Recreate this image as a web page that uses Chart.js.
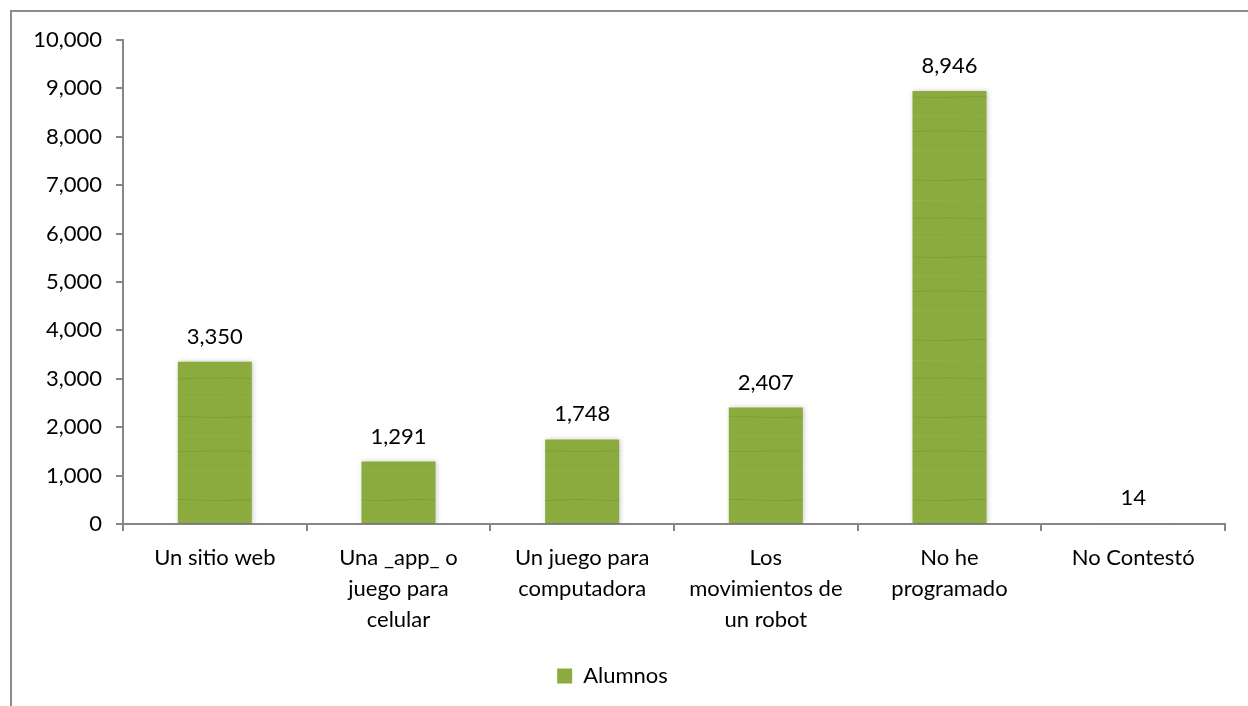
<!DOCTYPE html>
<html><head><meta charset="utf-8">
<script src="https://cdn.jsdelivr.net/npm/chart.js@4"></script>
<style>
html,body{margin:0;padding:0;background:#fff;}
#wrap{position:absolute;left:0;top:0;width:1248px;height:706px;}
</style></head>
<body><div id="wrap"><canvas id="c" width="1248" height="706"></canvas></div>
<script>
const categories = [
  "Un sitio web",
  ["Una _app_ o", "juego para", "celular"],
  ["Un juego para", "computadora"],
  ["Los", "movimientos de", "un robot"],
  ["No he", "programado"],
  "No Contestó"
];
const seriesName = "Alumnos";
const values = [3350, 1291, 1748, 2407, 8946, 14];
const yTicks = [0, 1000, 2000, 3000, 4000, 5000, 6000, 7000, 8000, 9000, 10000];

const FONT = "Lato, 'Open Sans', sans-serif";
const FS = 22;

function makePattern() {
  const p = document.createElement('canvas');
  p.width = 80; p.height = 160;
  const g = p.getContext('2d');
  g.fillStyle = '#8cab3f';
  g.fillRect(0, 0, 80, 160);
  g.strokeStyle = 'rgba(80,110,30,0.22)';
  g.lineWidth = 1;
  const rows = [20, 58, 97, 131];
  rows.forEach((y, i) => {
    g.beginPath();
    g.moveTo(0, y);
    g.bezierCurveTo(20, y + (i % 2 ? 2 : -2), 50, y + (i % 2 ? -1 : 2), 80, y);
    g.stroke();
  });
  g.strokeStyle = 'rgba(170,200,100,0.18)';
  [40, 77, 115, 150].forEach((y) => {
    g.beginPath();
    g.moveTo(0, y); g.lineTo(80, y + 1); g.stroke();
  });
  return g.createPattern(p, 'repeat');
}

const ctx0 = document.getElementById('c').getContext('2d');
const pattern = makePattern();

const frame = {
  id: 'frame',
  beforeDraw(chart) {
    const c = chart.ctx;
    c.save();
    c.fillStyle = '#fff';
    c.fillRect(0, 0, chart.width, chart.height);
    c.strokeStyle = '#8c8c8c';
    c.lineWidth = 2;
    c.beginPath();
    c.moveTo(11, 706); c.lineTo(11, 11); c.lineTo(1248, 11);
    c.stroke();
    c.restore();
  }
};

const valueLabels = {
  id: 'valueLabels',
  afterDatasetsDraw(chart) {
    const c = chart.ctx;
    const meta = chart.getDatasetMeta(0);
    c.save();
    c.font = FS + "px " + FONT;
    c.fillStyle = '#000';
    c.textAlign = 'center';
    c.textBaseline = 'bottom';
    meta.data.forEach((bar, i) => {
      c.fillText(values[i].toLocaleString('en-US'), bar.x, bar.y - 14);
    });
    c.restore();
  }
};

const shadow = {
  id: 'shadow',
  beforeDatasetsDraw(chart) {
    const c = chart.ctx;
    c.save();
    c.shadowColor = 'rgba(0,0,0,0.22)';
    c.shadowBlur = 5;
    c.shadowOffsetX = 1;
    c.shadowOffsetY = 0;
  },
  afterDatasetsDraw(chart) { chart.ctx.restore(); }
};

new Chart(ctx0, {
  type: 'bar',
  data: {
    labels: categories,
    datasets: [{
      label: seriesName,
      data: values,
      backgroundColor: pattern,
      borderWidth: 0,
      barPercentage: 0.403,
      categoryPercentage: 1.0
    }]
  },
  options: {
    responsive: false,
    animation: false,
    events: [],
    layout: { padding: { left: 0, right: 23, top: 40, bottom: 9 } },
    plugins: {
      legend: {
        position: 'bottom',
        labels: {
          font: { family: FONT, size: FS },
          color: '#000',
          boxWidth: 15,
          boxHeight: 15,
          padding: 6,
          generateLabels(chart) {
            return [{ text: seriesName, fillStyle: pattern, strokeStyle: 'transparent', lineWidth: 0, hidden: false, datasetIndex: 0 }];
          }
        }
      },
      tooltip: { enabled: false }
    },
    scales: {
      x: {
        offset: true,
        grid: { display: true, drawOnChartArea: false, drawTicks: true, tickLength: 7, color: '#868686', lineWidth: 2, offset: true },
        border: { display: true, color: '#868686', width: 2 },
        ticks: { font: { family: FONT, size: FS, lineHeight: 1.4 }, color: '#000', maxRotation: 0, autoSkip: false, padding: 12 },
        afterFit(scale) { scale.height = 135; }
      },
      y: {
        min: 0, max: 10000,
        afterBuildTicks(scale) { scale.ticks = yTicks.map(v => ({ value: v })); },
        grid: { display: true, drawOnChartArea: false, drawTicks: true, tickLength: 7, color: '#868686', lineWidth: 2 },
        border: { display: true, color: '#868686', width: 2 },
        ticks: {
          font: { family: FONT, size: FS }, color: '#000', padding: 14,
          callback: (v) => Number(v).toLocaleString('en-US')
        },
        afterFit(scale) { scale.width = 123; }
      }
    }
  },
  plugins: [frame, shadow, valueLabels]
});
</script></body></html>
